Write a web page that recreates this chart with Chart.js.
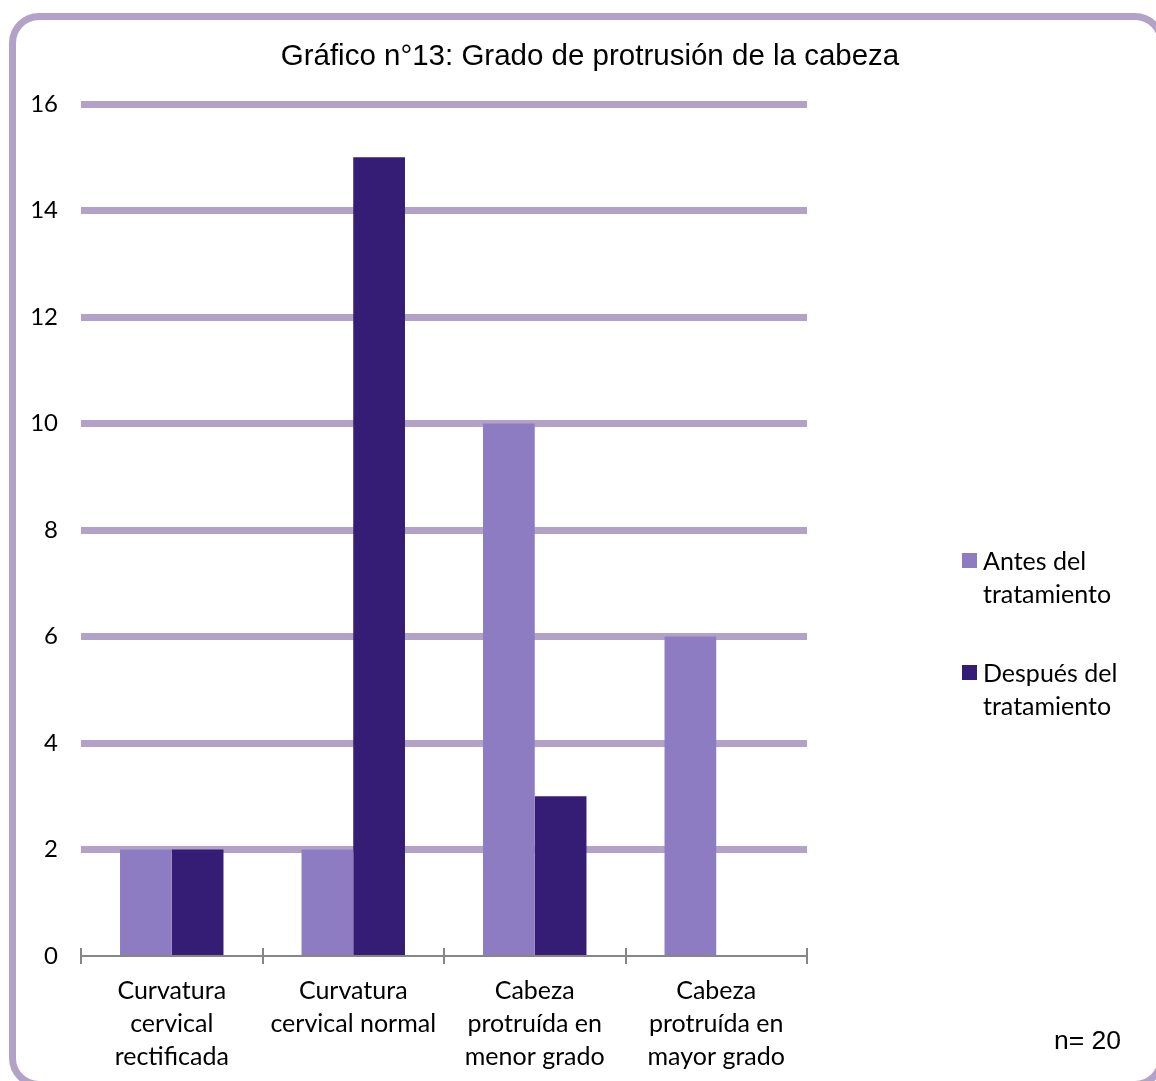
<!DOCTYPE html>
<html lang="es">
  <head>
    <meta charset="utf-8">
    <title>Gráfico n°13</title>
    <script src="https://cdn.jsdelivr.net/npm/chart.js@4.4.1/dist/chart.umd.min.js"></script>
    <style>
      html, body { margin: 0; padding: 0; background: #fff; overflow: hidden; }
      #wrap { position: relative; width: 1156px; height: 1081px; overflow: hidden; }
      #frame {
        position: absolute; left: 9px; top: 13px; width: 1142px; height: 1061px;
        border: 7px solid #B3A2C7; border-radius: 30px;
      }
      #chart { position: absolute; left: 0; top: 0; }
      #titulo {
        position: absolute; left: 0; width: 1180px; top: 38px; text-align: center;
        font-family: "Liberation Sans", Arial, sans-serif; font-size: 29.5px; color: #000;
      }
      .leg { position: absolute; left: 962px; font-family: Lato, "Open Sans", sans-serif; font-size: 25px; line-height: 33px; color: #000; }
      .leg span.box { position: absolute; left: 0; top: 9px; width: 15px; height: 15px; }
      .leg div { padding-left: 21px; }
      #n { position: absolute; left: 1054px; top: 1025px; font-family: "Liberation Sans", Arial, sans-serif; font-size: 26.5px; color: #000; }
    </style>
  </head>
  <body>
    <div id="wrap">
      <div id="frame"></div>
      <canvas id="chart" width="1156" height="1081"></canvas>
      <div id="titulo">Gráfico n°13: Grado de protrusión de la cabeza</div>
      <div id="legend"></div>
      <div id="n">n= 20</div>
    </div>

    <script type="text/javascript">

    var categorias = [
      ["Curvatura", "cervical", "rectificada"],
      ["Curvatura", "cervical normal"],
      ["Cabeza", "protruída en", "menor grado"],
      ["Cabeza", "protruída en", "mayor grado"]
    ]

    var antes = [2, 2, 10, 6]
    var despues = [2, 15, 3, 0]

    var series = ["Antes del tratamiento", "Después del tratamiento"]
    var colores = ["#8E7CC3", "#351C75"]

    var gridColor = "#B3A2C7"
    var axisColor = "#868686"

    // axis line at 0 with tick marks crossing it at the category borders
    var ejeX = {
      id: 'ejeX',
      afterDatasetsDraw: function(chart) {
        var ctx = chart.ctx
        var area = chart.chartArea
        var y0 = chart.scales.y.getPixelForValue(0)
        var n = categorias.length
        var step = (area.right - area.left) / n
        ctx.save()
        ctx.strokeStyle = axisColor
        ctx.lineWidth = 2
        ctx.beginPath()
        ctx.moveTo(area.left, y0)
        ctx.lineTo(area.right, y0)
        for (var i = 0; i <= n; i++) {
          var x = Math.round(area.left + i * step)
          ctx.moveTo(x, y0 - 8)
          ctx.lineTo(x, y0 + 8)
        }
        ctx.stroke()
        ctx.restore()
      }
    }

    var ctx = document.getElementById('chart').getContext('2d')
    var chart = new Chart(ctx, {
      type: 'bar',
      data: {
        labels: categorias,
        datasets: [{
          label: series[0],
          data: antes,
          backgroundColor: colores[0]
        }, {
          label: series[1],
          data: despues,
          backgroundColor: colores[1]
        }]
      },
      options: {
        responsive: false,
        animation: false,
        layout: { padding: { left: 0, right: 349, top: 104, bottom: 0 } },
        categoryPercentage: 0.57,
        barPercentage: 1.0,
        plugins: {
          legend: { display: false },
          title: { display: false },
          tooltip: { enabled: false }
        },
        scales: {
          x: {
            grid: { display: false },
            border: { display: false },
            ticks: {
              color: '#000',
              font: { family: 'Lato', size: 25, lineHeight: '33px' },
              padding: 10,
              maxRotation: 0,
              autoSkip: false
            },
            afterFit: function(scale) { scale.height = 125 }
          },
          y: {
            min: 0,
            max: 16,
            ticks: {
              stepSize: 2,
              color: '#000',
              font: { family: 'Lato', size: 24 },
              padding: 23
            },
            grid: {
              drawTicks: false,
              color: gridColor,
              // no purple line at 0, the gray axis goes there instead
              lineWidth: function(c) { return c.tick && c.tick.value === 0 ? 0 : 7 }
            },
            border: { display: false },
            afterFit: function(scale) { scale.width = 81 }
          }
        }
      },
      plugins: [ejeX]
    })

    // legend on the right, two lines per entry
    var legend = document.getElementById('legend')
    var tops = [544, 656]
    for (var i = 0; i < series.length; i++) {
      var words = series[i].split(' ')
      var item = document.createElement('div')
      item.className = 'leg'
      item.style.top = tops[i] + 'px'
      item.innerHTML = '<span class="box" style="background:' + colores[i] + '"></span>' +
        '<div>' + words.slice(0, 2).join(' ') + '<br>' + words.slice(2).join(' ') + '</div>'
      legend.appendChild(item)
    }

    </script>
  </body>
</html>
